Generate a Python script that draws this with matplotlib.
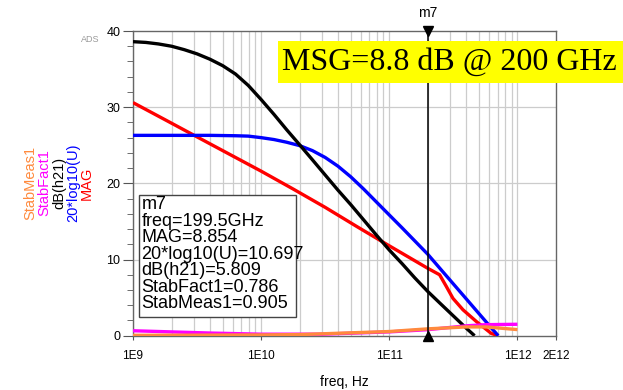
import matplotlib
matplotlib.use("Agg")
import matplotlib.pyplot as plt
from matplotlib.patches import Rectangle
import numpy as np

# ---------------- data ----------------
mag_freq = [1e9, 1.78e9, 3.16e9, 5.62e9, 1e10, 1.78e10, 3.16e10, 5.62e10, 1e11,
            1.995e11, 2.47e11, 2.79e11, 3.14e11, 3.76e11, 4.79e11, 6.25e11, 7.08e11]
mag_db = [30.6, 28.35, 26.1, 23.85, 21.6, 19.25, 16.85, 14.3, 11.8,
          8.85, 8.0, 6.45, 4.9, 3.4, 1.85, 0.3, 0.0]

u_freq = [1e9, 2.0e9, 3.98e9, 6.31e9, 7.94e9, 1e10, 1.26e10, 1.58e10, 2.0e10, 2.51e10,
          3.16e10, 3.98e10, 5.01e10, 6.31e10, 7.94e10, 1e11, 1.26e11, 1.58e11, 1.995e11,
          2.51e11, 3.16e11, 3.98e11, 5.01e11, 6.31e11, 7.08e11]
u_db = [26.3, 26.3, 26.3, 26.25, 26.2, 26.0, 25.75, 25.4, 24.95, 24.3,
        23.4, 22.25, 20.85, 19.25, 17.55, 15.85, 14.15, 12.45, 10.7,
        8.75, 6.8, 4.85, 2.9, 0.95, 0.0]

h21_freq = [1e9, 1.26e9, 1.58e9, 2.0e9, 2.51e9, 3.16e9, 3.98e9, 5.01e9, 6.31e9, 7.94e9,
            1e10, 1.26e10, 1.58e10, 2.0e10, 2.51e10, 3.16e10, 3.98e10, 5.01e10, 6.31e10, 7.94e10,
            1e11, 1.26e11, 1.58e11, 1.995e11, 2.51e11, 3.16e11, 3.98e11, 4.63e11]
h21_db = [38.6, 38.5, 38.3, 38.0, 37.55, 37.0, 36.3, 35.45, 34.35, 32.85,
          31.0, 29.05, 27.05, 25.05, 23.1, 21.1, 19.1, 17.2, 15.2, 13.2,
          11.25, 9.45, 7.6, 5.81, 4.2, 2.6, 1.0, 0.0]

sf_freq = [1e9, 2e9, 4e9, 1e10, 3e10, 1e11, 1.995e11, 4e11, 5.7e11, 1e12]
stabfact = [0.65, 0.5, 0.35, 0.2, 0.2, 0.5, 0.79, 1.3, 1.45, 1.5]

sm_freq = [1e9, 1e10, 2e10, 3e10, 1e11, 1.995e11, 4e11, 5.7e11, 1e12]
stabmeas = [0.05, 0.1, 0.15, 0.25, 0.55, 0.9, 1.15, 1.15, 0.8]

xtick_vals = [1e9, 1e10, 1e11, 1e12, 2e12]
xtick_labels = ["1E9", "1E10", "1E11", "1E12", "2E12"]
ytick_vals = [0, 10, 20, 30, 40]

marker_freq = 199.5e9
marker_lines = ["m7", "freq=199.5GHz", "MAG=8.854", "20*log10(U)=10.697",
                "dB(h21)=5.809", "StabFact1=0.786", "StabMeas1=0.905"]

c_mag = "#ff0000"
c_u = "#0000ff"
c_h21 = "#000000"
c_sf = "#ff00ff"
c_sm = "#ff8a3d"

plt.rcParams['font.family'] = ['Liberation Sans', 'DejaVu Sans']

W, H = 623, 390
fig = plt.figure(figsize=(W / 100, H / 100), dpi=100)
L, R, T, B = 133, 556, 31, 335.7
ax = fig.add_axes([L / W, 1 - B / H, (R - L) / W, (B - T) / H])
ax.set_xscale('log')
ax.set_xlim(1e9, 2e12)
ax.set_ylim(0, 40)

# grid
for dec in [1e9, 1e10, 1e11]:
    for m in range(1, 10):
        ax.axvline(dec * m, color="#cccccc", lw=0.9, zorder=0)
ax.axvline(1e12, color="#cccccc", lw=0.9, zorder=0)
for yv in [10, 20, 30]:
    ax.axhline(yv, color="#cccccc", lw=0.9, zorder=0)

lw = 2.4
kw = dict(lw=lw, zorder=3, solid_joinstyle='round', solid_capstyle='butt')
ax.plot(mag_freq, mag_db, color=c_mag, **kw)
ax.plot(u_freq, u_db, color=c_u, **kw)
ax.plot(h21_freq, h21_db, color=c_h21, **kw)
ax.plot(sf_freq, stabfact, color=c_sf, **kw)
ax.plot(sm_freq, stabmeas, color=c_sm, **kw)

# marker line
ax.axvline(marker_freq, color="black", lw=1.1, zorder=4)
ax.plot([marker_freq], [40], marker='v', color='black', ms=7, clip_on=False, zorder=5)
ax.plot([marker_freq], [0], marker='^', color='black', ms=7, clip_on=False, zorder=5)
ax.text(marker_freq, 41.5, "m7", ha='center', va='bottom', fontsize=10)

# ticks
ax.set_xticks(xtick_vals)
ax.set_xticklabels(xtick_labels)
ax.xaxis.set_minor_locator(matplotlib.ticker.NullLocator())
ax.set_yticks(ytick_vals)
ax.set_yticks(np.arange(0, 41, 2), minor=True)
ax.tick_params(axis='x', which='major', direction='out', length=3, labelsize=8.5, color='#555555', pad=7)
ax.tick_params(axis='y', which='major', direction='out', length=7, labelsize=9, color='#555555', pad=2)
ax.tick_params(axis='y', which='minor', direction='out', length=4, color='#555555')
for s in ax.spines.values():
    s.set_color('#666666')
    s.set_linewidth(1.0)

ax.set_xlabel("freq, Hz", fontsize=10, labelpad=10)

# y label stack (rotated)
ylabels = [("StabMeas1", c_sm, 30), ("StabFact1", c_sf, 44), ("dB(h21)", c_h21, 59),
           ("20*log10(U)", c_u, 73), ("MAG", c_mag, 87)]
for txt, col, xp in ylabels:
    fig.text(xp / W, 1 - 183 / H, txt, color=col, rotation=90, ha='center', va='center', fontsize=10.5)

fig.text(90 / W, 1 - 39 / H, "ADS", color='#999999', fontsize=6.5, ha='center', va='center')

# marker readout box
bx0, by0, bx1, by1 = 139, 195, 296, 317
fig.patches.append(Rectangle((bx0 / W, 1 - by1 / H), (bx1 - bx0) / W, (by1 - by0) / H,
                             transform=fig.transFigure, facecolor='white', edgecolor='#444444',
                             lw=1.0, zorder=6))
fig.text(141.5 / W, 1 - 196 / H, "\n".join(marker_lines), fontsize=13, ha='left', va='top',
         linespacing=0.965, zorder=7)

# yellow annotation
fig.patches.append(Rectangle((278 / W, 1 - 83 / H), (W - 278) / W, 42 / H,
                             transform=fig.transFigure, facecolor='#ffff00', edgecolor='none', zorder=6))
fig.text(449 / W, 1 - 62 / H, "MSG=8.8 dB @ 200 GHz", fontsize=23, family='Liberation Serif',
         ha='center', va='center', zorder=7)

fig.savefig("out.png", dpi=100)
